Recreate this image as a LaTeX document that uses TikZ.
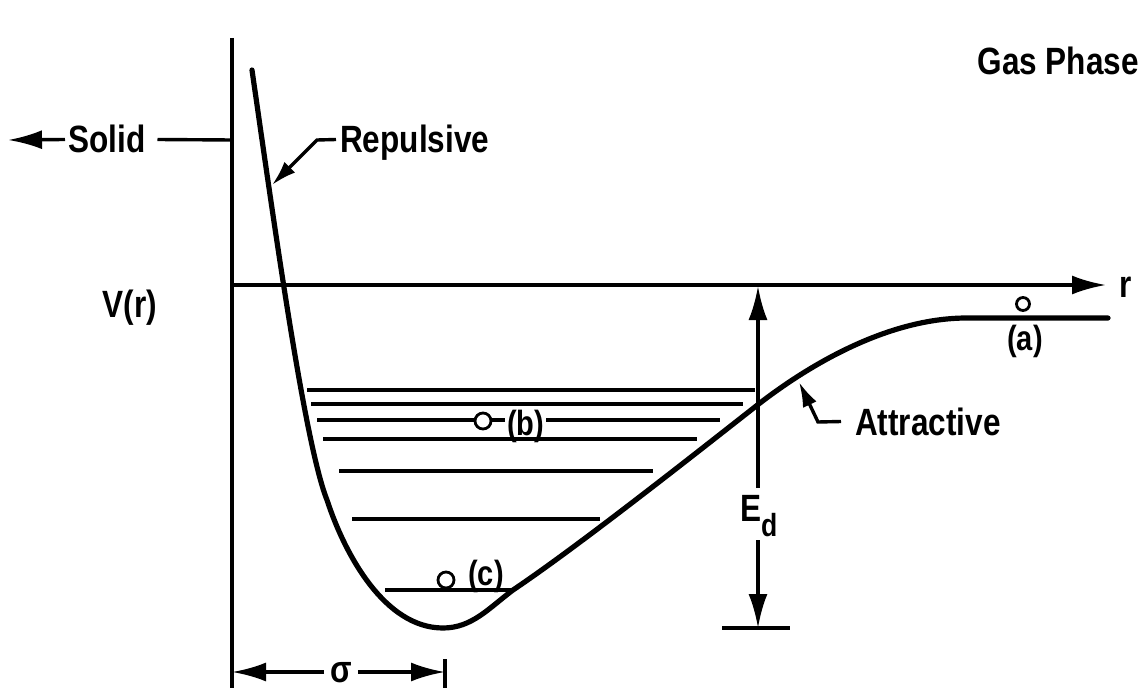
\documentclass[tikz,border=0pt]{standalone}
\usepackage{fontspec}
\newfontfamily\lbl{Liberation Sans}[FakeStretch=0.83]
\usetikzlibrary{arrows.meta}
\begin{document}
\begin{tikzpicture}[x=1pt,y=-1pt,
  txt/.style={font=\lbl\bfseries\fontsize{38}{42}\selectfont, inner sep=0pt, text height=27pt, text depth=0pt},
  lab/.style={font=\lbl\bfseries\fontsize{35}{38}\selectfont, inner sep=0pt, text height=25pt, text depth=0pt},
  axis/.style={line width=3.4pt},
  lvl/.style={line width=3.2pt},
  curve/.style={line width=5.2pt, line cap=round},
  bigtip/.style={-{Latex[length=34pt,width=19pt]}},
  smalltip/.style={-{Latex[length=25pt,width=15pt]}},
  ball/.style={circle, draw, line width=2.8pt, fill=white, inner sep=0pt}
]
\useasboundingbox (0,0) rectangle (1144,690);

% axes
\coordinate (ytop) at (232,38);
\coordinate (ybot) at (232,688);
\coordinate (o) at (232,285);
\coordinate (rend) at (1106,285);
\draw[axis] (ytop) -- (ybot);
\draw[axis, bigtip] (o) -- (rend);
\node[txt, anchor=base west] (rlab) at (1119,297) {r};
\node[txt, anchor=base] (vlab) at (130,317) {V(r)};
\node[txt, anchor=base east] (gas) at (1139,75) {Gas Phase};

% Solid
\node[txt, anchor=base west] (solid) at (68,153) {Solid};
\coordinate (sl) at (8,140);
\coordinate (sa) at (232,140);
\draw[axis, bigtip] ([xshift=-3pt]solid.west) -- (sl);
\draw[axis] ([xshift=12pt]solid.east) -- (sa);

% potential curve
\draw[curve] (252,70) .. controls (275,230) and (305,445) .. (327,500)
  .. controls (345,555) and (385,628) .. (443,628)
  .. controls (472,628) and (489,608) .. (513,590)
  .. controls (580,545) and (700,450) .. (760,403)
  .. controls (820,357) and (895,318) .. (967,318)
  -- (1108,318);

% Repulsive label
\node[txt, anchor=base west] (rep) at (340,153) {Repulsive};
\coordinate (repk) at (317,140);
\coordinate (rept) at (272,185);
\draw[axis, smalltip] ([xshift=-4pt]rep.west) -- (repk) -- (rept);

% Attractive label
\node[txt, anchor=base west] (att) at (855,435) {Attractive};
\coordinate (attk) at (818,422);
\coordinate (attt) at (799,382);
\draw[axis, smalltip] ([xshift=-14pt]att.west) -- (attk) -- (attt);

% energy levels
\coordinate (l1a) at (307,390); \coordinate (l1b) at (755,390);
\coordinate (l2a) at (311,404); \coordinate (l2b) at (743,404);
\coordinate (l3a) at (317,420); \coordinate (l3b) at (720,420);
\coordinate (l4a) at (323,439); \coordinate (l4b) at (697,439);
\coordinate (l5a) at (339,471); \coordinate (l5b) at (653,471);
\coordinate (l6a) at (352,519); \coordinate (l6b) at (600,519);
\coordinate (l7a) at (385,590); \coordinate (l7b) at (512,590);
\draw[lvl] (l1a) -- (l1b);
\draw[lvl] (l2a) -- (l2b);
\draw[lvl] (l3a) -- (l3b);
\draw[lvl] (l4a) -- (l4b);
\draw[lvl] (l5a) -- (l5b);
\draw[lvl] (l6a) -- (l6b);
\draw[lvl] (l7a) -- (l7b);

% balls and labels
\node[ball, minimum size=13pt] (ba) at (1023,304) {};
\node[lab, anchor=base] (la) at (1025,350) {(a)};
\node[ball, minimum size=16pt] (bb) at (483,421) {};
\node[lab, anchor=base west, fill=white, inner xsep=2pt] (lb) at (505,435) {(b)};
\node[ball, minimum size=16pt] (bc) at (446,580) {};
\node[lab, anchor=base west] (lc) at (468,585) {(c)};

% E_d
\coordinate (et) at (758,286);
\coordinate (eb) at (758,628);
\coordinate (eu) at (758,488);
\coordinate (el) at (758,540);
\node[txt, anchor=base west] (ed) at (740,521) {E\raisebox{-15pt}{\fontsize{32}{34}\selectfont d}};
\draw[axis, bigtip] (eu) -- (et);
\draw[axis, bigtip] (el) -- (eb);
\coordinate (bl) at (722,628);
\coordinate (br) at (790,628);
\draw[axis] (bl) -- (br);

% sigma
\node[txt, anchor=base] (sig) at (341,682) {σ};
\coordinate (sgl) at (232,672);
\coordinate (sgr) at (445,672);
\draw[axis, bigtip] ([xshift=-6pt]sig.west |- sgl) -- (sgl);
\draw[axis, bigtip] ([xshift=6pt]sig.east |- sgr) -- (sgr);
\coordinate (tkt) at (445,659);
\coordinate (tkb) at (445,688);
\draw[axis] (tkt) -- (tkb);
\end{tikzpicture}
\end{document}
